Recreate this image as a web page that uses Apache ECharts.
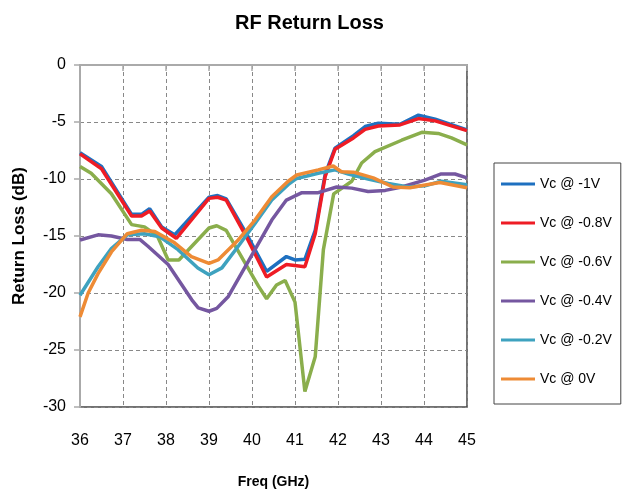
<!DOCTYPE html>
<html>
<head>
    <meta charset="utf-8">
    <title>RF Return Loss</title>
    <script src="https://cdn.jsdelivr.net/npm/echarts@6/dist/echarts.min.js"></script>
    <style>
        html, body {
            margin: 0;
            padding: 0;
            background: #ffffff;
        }

        #chart {
            width: 628px;
            height: 500px;
        }
    </style>
</head>
<body>
<div id="chart"></div>
<script>
    // 读图得到的数据 [频率 GHz, 回波损耗 dB]
    var names = ['Vc @ -1V', 'Vc @ -0.8V', 'Vc @ -0.6V', 'Vc @ -0.4V', 'Vc @ -0.2V', 'Vc @ 0V'];
    var colors = ['#1e70c0', '#ee1c25', '#8aae4c', '#7557a0', '#3ea2bf', '#ee8b35'];
    var xTicks = {min: 36, max: 45, step: 1};
    var yTicks = {min: -30, max: 0, step: 5};

    var vcM10 = [[36.0, -7.7], [36.5, -8.9], [37.2, -13.1], [37.43, -13.1], [37.62, -12.6], [37.9, -14.2],
        [38.2, -14.9], [39.0, -11.6], [39.2, -11.45], [39.4, -11.75], [39.9, -15.0], [40.34, -18.1],
        [40.8, -16.8], [41.0, -17.1], [41.23, -17.05], [41.47, -14.5], [41.7, -9.6], [41.93, -7.3],
        [42.36, -6.2], [42.63, -5.4], [42.94, -5.1], [43.44, -5.2], [43.87, -4.4], [44.26, -4.75], [45.0, -5.7]];
    var vcM08 = [[36.0, -7.8], [36.5, -9.1], [37.2, -13.25], [37.43, -13.25], [37.62, -12.8], [37.9, -14.3],
        [38.24, -15.2], [39.0, -11.7], [39.2, -11.6], [39.4, -11.85], [39.9, -15.3], [40.34, -18.6],
        [40.8, -17.5], [41.23, -17.7], [41.47, -14.8], [41.7, -9.8], [41.93, -7.4], [42.36, -6.4],
        [42.63, -5.65], [42.94, -5.35], [43.44, -5.26], [43.87, -4.7], [44.26, -4.9], [45.0, -5.76]];
    var vcM06 = [[36.0, -8.9], [36.26, -9.5], [36.73, -11.3], [37.2, -14.0], [37.5, -14.2], [37.8, -15.0],
        [38.05, -17.1], [38.3, -17.1], [39.0, -14.3], [39.18, -14.1], [39.4, -14.5], [40.15, -19.4],
        [40.34, -20.5], [40.57, -19.3], [40.77, -18.9], [41.0, -20.8], [41.23, -28.65], [41.47, -25.6],
        [41.66, -16.2], [41.9, -11.3], [42.32, -10.2], [42.55, -8.6], [42.86, -7.6], [43.48, -6.6],
        [43.95, -5.9], [44.33, -6.0], [44.64, -6.4], [45.0, -7.0]];
    var vcM04 = [[36.0, -15.35], [36.42, -14.9], [36.73, -15.0], [37.1, -15.3], [37.39, -15.3], [37.58, -15.9],
        [38.05, -17.5], [38.6, -20.6], [38.75, -21.3], [39.0, -21.6], [39.18, -21.35], [39.45, -20.3],
        [40.46, -13.6], [40.8, -11.85], [41.16, -11.2], [41.54, -11.2], [41.97, -10.7], [42.32, -10.8],
        [42.7, -11.1], [43.1, -11.0], [43.48, -10.7], [44.02, -10.1], [44.4, -9.56], [44.72, -9.56], [45.0, -9.9]];
    var vcM02 = [[36.0, -20.2], [36.42, -17.7], [36.73, -16.1], [37.1, -14.9], [37.5, -14.8], [37.85, -15.06],
        [38.28, -16.2], [38.74, -17.8], [39.0, -18.4], [39.3, -17.8], [39.68, -15.9], [40.07, -13.9],
        [40.46, -11.85], [40.84, -10.5], [41.04, -9.95], [41.54, -9.5], [41.93, -9.2], [42.24, -9.56],
        [42.7, -10.0], [43.17, -10.4], [43.63, -10.7], [44.02, -10.6], [44.4, -10.2], [45.0, -10.5]];
    var vc00 = [[36.0, -22.1], [36.19, -20.0], [36.42, -18.3], [36.73, -16.4], [37.1, -14.8], [37.43, -14.5],
        [37.74, -14.6], [38.2, -15.6], [38.59, -16.8], [39.0, -17.4], [39.21, -17.1], [39.68, -15.35],
        [40.07, -13.6], [40.46, -11.55], [40.84, -10.2], [41.04, -9.65], [41.54, -9.2], [41.89, -8.86],
        [42.08, -9.36], [42.36, -9.4], [42.82, -9.9], [43.28, -10.7], [43.67, -10.76], [44.06, -10.5],
        [44.37, -10.3], [45.0, -10.76]];

    var allData = [vcM10, vcM08, vcM06, vcM04, vcM02, vc00];
    var fontFamily = "'Liberation Sans', sans-serif";

    // 图例图标：细横线（上下各一个退化三角形撑开边界）
    var lineIcon = 'path://M0,0 L34,0 L34,0.01 Z M0,5.5 L34,5.5 L34,8.5 L0,8.5 Z M0,14 L34,14 L34,13.99 Z';

    var chart = echarts.init(document.getElementById('chart'));

    var series = [];
    for (var i = 0; i < names.length; i++) {
        series.push({
            name: names[i],
            type: 'line',
            symbol: 'none',
            data: allData[i],
            lineStyle: {width: 3.5, color: colors[i]},
            itemStyle: {color: colors[i]}
        });
    }

    var option = {
        backgroundColor: '#ffffff',
        animation: false,
        title: {
            text: 'RF Return Loss',
            left: 230,
            top: 8,
            textStyle: {fontFamily: fontFamily, fontSize: 20, fontWeight: 'bold', color: '#000'}
        },
        legend: {
            orient: 'vertical',
            left: 494,
            top: 163,
            padding: [14, 9, 18, 7],
            itemWidth: 34,
            itemHeight: 14,
            itemGap: 25,
            icon: lineIcon,
            borderColor: '#444',
            borderWidth: 1,
            data: names,
            textStyle: {fontFamily: fontFamily, fontSize: 14, color: '#000'}
        },
        grid: {
            left: 80,
            top: 65,
            right: 161,
            bottom: 93,
            show: true,
            borderColor: '#444',
            borderWidth: 1.5
        },
        xAxis: {
            type: 'value',
            min: xTicks.min,
            max: xTicks.max,
            interval: xTicks.step,
            name: 'Freq (GHz)',
            nameLocation: 'middle',
            nameGap: 68,
            nameTextStyle: {fontFamily: fontFamily, fontSize: 14, fontWeight: 'bold', color: '#000'},
            axisLine: {lineStyle: {color: '#aaa', width: 2}},
            axisTick: {length: 6, lineStyle: {color: '#aaa', width: 1.5}},
            axisLabel: {margin: 26, fontFamily: fontFamily, fontSize: 16, color: '#000'},
            splitLine: {lineStyle: {color: '#888', type: [4, 3], width: 1}}
        },
        yAxis: {
            type: 'value',
            min: yTicks.min,
            max: yTicks.max,
            interval: yTicks.step,
            name: 'Return Loss (dB)',
            nameLocation: 'middle',
            nameGap: 52,
            nameTextStyle: {fontFamily: fontFamily, fontSize: 17, fontWeight: 'bold', color: '#000'},
            axisLine: {show: true, lineStyle: {color: '#aaa', width: 2}},
            axisTick: {show: true, length: 6, lineStyle: {color: '#aaa', width: 1.5}},
            axisLabel: {margin: 14, fontFamily: fontFamily, fontSize: 16, color: '#000'},
            splitLine: {lineStyle: {color: '#888', type: [4, 3], width: 1}}
        },
        series: series
    };
    chart.setOption(option);
</script>
</body>
</html>
